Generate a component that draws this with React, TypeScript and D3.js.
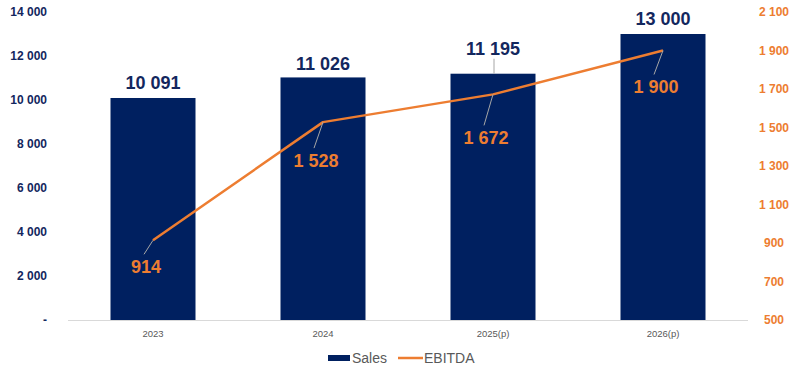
import React from "react";
import * as d3 from "d3";

const categories = ["2023", "2024", "2025(p)", "2026(p)"];
const sales = [10091, 11026, 11195, 13000];
const ebitda = [914, 1528, 1672, 1900];
const leftTicks = [0, 2000, 4000, 6000, 8000, 10000, 12000, 14000];
const rightTicks = [500, 700, 900, 1100, 1300, 1500, 1700, 1900, 2100];

// label placement offsets (px)
const salesLabelLift = [15, 14, 25, 15];
const ebitdaLabelOffset: [number, number][] = [
  [-7, 26],
  [-7, 38],
  [-7, 43],
  [-7, 36],
];

const W = 797;
const H = 376;
const NAVY = "#002060";
const NAVY_TEXT = "#13275E";
const ORANGE = "#ED7D31";
const FONT = "'Liberation Sans', Arial, sans-serif";

const loc = d3.formatLocale({ decimal: ",", thousands: " ", grouping: [3], currency: ["", ""] });
const fmt = loc.format(",d");

export default function App() {
  const x = d3.scaleBand<string>().domain(categories).range([68, 748]).paddingInner(0.5).paddingOuter(0.25);
  const yL = d3.scaleLinear().domain([0, 14000]).range([320, 12]);
  const yR = d3.scaleLinear().domain([500, 2100]).range([320, 12]);
  const cx = (c: string) => (x(c) as number) + x.bandwidth() / 2;

  const line = d3
    .line<number>()
    .x((_, i) => cx(categories[i]))
    .y((d) => yR(d));

  return (
    <svg width={W} height={H} style={{ position: "absolute", left: 0, top: 0, fontFamily: FONT }}>
      <rect width={W} height={H} fill="#fff" />
      {/* left axis labels */}
      {leftTicks.map((t) => (
        <text key={"l" + t} x={47} y={yL(t) + 4.3} textAnchor="end" fontSize={12} fontWeight="bold" fill={NAVY_TEXT}>
          {t === 0 ? "-" : fmt(t)}
        </text>
      ))}
      {/* right axis labels */}
      {rightTicks.map((t) => (
        <text key={"r" + t} x={774} y={yR(t) + 4.3} textAnchor="middle" fontSize={12} fontWeight="bold" fill={ORANGE}>
          {fmt(t)}
        </text>
      ))}
      {/* bars */}
      {sales.map((v, i) => (
        <rect
          key={"b" + i}
          x={x(categories[i])}
          y={yL(v)}
          width={x.bandwidth()}
          height={yL(0) - yL(v)}
          fill={NAVY}
        />
      ))}
      {/* baseline */}
      <line x1={68} x2={748} y1={320.5} y2={320.5} stroke="#D9D9D9" strokeWidth={1} />
      {/* category labels */}
      {categories.map((c) => (
        <text key={"c" + c} x={cx(c)} y={337} textAnchor="middle" fontSize={9.5} fill="#595959">
          {c}
        </text>
      ))}
      {/* sales labels */}
      {sales.map((v, i) => {
        const top = yL(v);
        const cy = top - salesLabelLift[i];
        return (
          <g key={"sl" + i}>
            {salesLabelLift[i] > 20 && (
              <line x1={cx(categories[i]) + 1} x2={cx(categories[i]) + 1} y1={top} y2={cy + 10} stroke="#A6A6A6" strokeWidth={1} />
            )}
            <text x={cx(categories[i])} y={cy + 6.4} textAnchor="middle" fontSize={18} fontWeight="bold" fill={NAVY_TEXT}>
              {fmt(v)}
            </text>
          </g>
        );
      })}
      {/* EBITDA line */}
      <path d={line(ebitda) || ""} fill="none" stroke={ORANGE} strokeWidth={2.5} strokeLinejoin="round" />
      {/* EBITDA labels */}
      {ebitda.map((v, i) => {
        const px = cx(categories[i]);
        const py = yR(v);
        const [dx, dy] = ebitdaLabelOffset[i];
        const lx = px + dx;
        const ly = py + dy;
        return (
          <g key={"el" + i}>
            <line x1={px} y1={py} x2={lx - 2} y2={ly - 12} stroke="#A6A6A6" strokeWidth={1} />
            <text x={lx} y={ly + 6.4} textAnchor="middle" fontSize={18} fontWeight="bold" fill={ORANGE}>
              {fmt(v)}
            </text>
          </g>
        );
      })}
      {/* legend */}
      <rect x={328} y={355} width={22} height={6} fill={NAVY} />
      <text x={352} y={363} fontSize={14} fill="#595959">Sales</text>
      <line x1={398} x2={423} y1={358} y2={358} stroke={ORANGE} strokeWidth={2.5} />
      <text x={424} y={363} fontSize={14} fill="#595959">EBITDA</text>
    </svg>
  );
}
